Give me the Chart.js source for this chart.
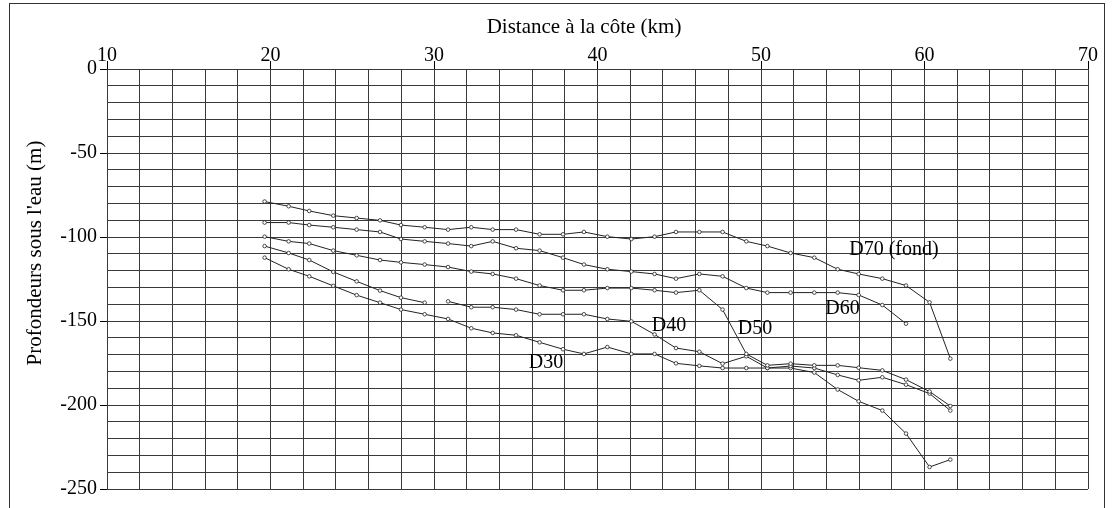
<!DOCTYPE html>
<html>
<head>
<meta charset="utf-8">
<script src="https://cdn.jsdelivr.net/npm/chart.js@4/dist/chart.umd.min.js"></script>
<style>
  body { margin: 0; background: #fff; }
</style>
</head>
<body>
<canvas id="profil" width="1115" height="508"></canvas>
<script>
// distance à la côte (km) of each sounding station
const DISTANCES = [
  19.64, 21.11, 22.37, 23.84, 25.27, 26.7, 27.98, 29.43, 30.86, 32.28, 33.59,
  35.02, 36.46, 37.89, 39.17, 40.6, 42.07, 43.49, 44.8, 46.23, 47.65, 49.1,
  50.39, 51.81, 53.26, 54.69, 55.97, 57.42, 58.87, 60.31, 61.58,
];

// depths (m) per isoline, one value per station (null = no sounding)
const D70 = [
  -78.9, -81.7, -84.5, -87.3, -88.7, -90.1, -92.9, -94.2, -95.6, -94.2, -95.6,
  -95.6, -98.4, -98.4, -97.0, -99.8, -101.2, -99.8, -97.0, -97.0, -97.0, -102.6,
  -105.4, -109.5, -112.3, -119.2, -122.0, -124.8, -128.9, -138.9, -172.4,
];
const D60 = [
  -91.4, -91.4, -92.9, -94.2, -95.6, -97.0, -101.2, -102.6, -103.9, -105.4, -102.6,
  -106.7, -108.1, -112.3, -116.4, -119.2, -120.6, -122.0, -124.8, -122.0, -123.4, -130.4,
  -133.1, -133.1, -133.1, -133.1, -134.5, -140.5, -151.6, null, null,
];
const D50 = [
  -99.8, -102.6, -103.9, -108.1, -110.9, -113.7, -115.1, -116.4, -117.9, -120.6, -122.0,
  -124.8, -128.9, -131.7, -131.7, -130.4, -130.4, -131.7, -133.1, -131.7, -143.2, -169.6,
  -176.4, -175.4, -176.4, -176.4, -177.8, -179.4, -184.9, -192.0, -200.6,
];
const D40 = [
  -105.4, -109.5, -113.7, -120.8, -126.4, -131.9, -136.1, -139.1, -138.3, -141.8, -141.8,
  -143.2, -146.0, -146.0, -146.0, -148.8, -150.2, -158.0, -166.1, -168.3, -175.4, -171.0,
  -178.0, -176.8, -178.0, -182.1, -185.3, -183.5, -187.9, -193.2, -203.3,
];
const D30 = [
  -112.3, -119.2, -123.4, -129.1, -134.6, -139.1, -143.2, -146.0, -148.8, -154.3, -157.1,
  -158.5, -162.7, -166.8, -169.6, -165.5, -169.6, -169.6, -175.2, -176.7, -178.0, -178.0,
  -178.0, -178.0, -180.7, -190.8, -197.8, -203.3, -217.0, -236.9, -232.5,
];
// the D40 trace is interrupted after this station index
const D40_BREAKS = [7];

const SERIES = [D70, D60, D50, D40, D30];
const SERIES_NAMES = ["D70 (fond)", "D60", "D50", "D40", "D30"];
const NAME_X = [58.13, 54.98, 49.63, 44.37, 36.85];
const NAME_Y = [-107.7, -142.9, -154.8, -153.0, -174.7];

const X_TITLE = "Distance à la côte (km)";
const Y_TITLE = "Profondeurs sous l'eau (m)";

const X_MIN = 10, X_MAX = 70, X_STEP = 2, X_LABEL_STEP = 10;
const Y_MIN = -250, Y_MAX = 0, Y_STEP = 10, Y_LABEL_STEP = 50;

const FONT = "'Liberation Serif', 'Times New Roman', serif";
const INK = "#222";
const GRID = "#3a3a3a";

// outer frame, axis titles and isoline names
const frameAndNames = {
  id: "frameAndNames",
  beforeDraw(chart) {
    const ctx = chart.ctx;
    ctx.save();
    ctx.strokeStyle = "#333";
    ctx.lineWidth = 1;
    ctx.strokeRect(9.5, 3.5, 1095, 540);

    ctx.font = "21px " + FONT;
    ctx.fillStyle = "#000";
    ctx.textAlign = "center";
    ctx.textBaseline = "middle";
    ctx.fillText(X_TITLE, 584, 27);
    ctx.translate(35, 253);
    ctx.rotate(-Math.PI / 2);
    ctx.fillText(Y_TITLE, 0, 0);
    ctx.restore();
  },
  afterDatasetsDraw(chart) {
    const ctx = chart.ctx;
    const { x, y } = chart.scales;
    ctx.save();
    ctx.font = "20px " + FONT;
    ctx.fillStyle = "#000";
    ctx.textAlign = "center";
    ctx.textBaseline = "middle";
    SERIES_NAMES.forEach((name, i) => {
      ctx.fillText(name, x.getPixelForValue(NAME_X[i]), y.getPixelForValue(NAME_Y[i]));
    });
    ctx.restore();
  },
};

const datasets = SERIES.map((depths, s) => ({
  label: SERIES_NAMES[s],
  data: DISTANCES.map((d, i) => ({ x: d, y: depths[i] })),
  showLine: true,
  borderColor: INK,
  borderWidth: 1,
  pointRadius: 1.8,
  pointBorderWidth: 0.8,
  pointBackgroundColor: "#fff",
  pointBorderColor: INK,
  spanGaps: false,
  segment: s === 3 ? {
    borderColor: (c) => (D40_BREAKS.includes(c.p0DataIndex) ? "transparent" : undefined),
  } : undefined,
}));

new Chart(document.getElementById("profil"), {
  type: "scatter",
  data: { datasets },
  options: {
    responsive: false,
    animation: false,
    devicePixelRatio: 1,
    layout: { padding: { left: 0, top: 0, right: 27, bottom: 19 } },
    plugins: {
      legend: { display: false },
      tooltip: { enabled: false },
    },
    scales: {
      x: {
        type: "linear",
        position: "top",
        min: X_MIN,
        max: X_MAX,
        afterFit: (scale) => { scale.height = 69; },
        grid: {
          color: GRID,
          lineWidth: 1,
          tickLength: 8,
          tickColor: (c) => (c.tick && c.tick.value % X_LABEL_STEP === 0 ? "#000" : "transparent"),
        },
        border: { color: GRID },
        ticks: {
          stepSize: X_STEP,
          autoSkip: false,
          maxRotation: 0,
          padding: -7,
          color: "#000",
          font: { family: FONT, size: 20 },
          callback: (v) => (v % X_LABEL_STEP === 0 ? String(v) : ""),
        },
      },
      y: {
        type: "linear",
        min: Y_MIN,
        max: Y_MAX,
        afterFit: (scale) => { scale.width = 107; },
        grid: {
          color: GRID,
          lineWidth: 1,
          tickLength: 7,
          tickColor: (c) => (c.tick && c.tick.value % Y_LABEL_STEP === 0 ? "#000" : "transparent"),
        },
        border: { color: GRID },
        ticks: {
          stepSize: Y_STEP,
          autoSkip: false,
          padding: 3,
          color: "#000",
          font: { family: FONT, size: 20 },
          callback: (v) => (v % Y_LABEL_STEP === 0 ? String(v) : ""),
        },
      },
    },
  },
  plugins: [frameAndNames],
});
</script>
</body>
</html>
